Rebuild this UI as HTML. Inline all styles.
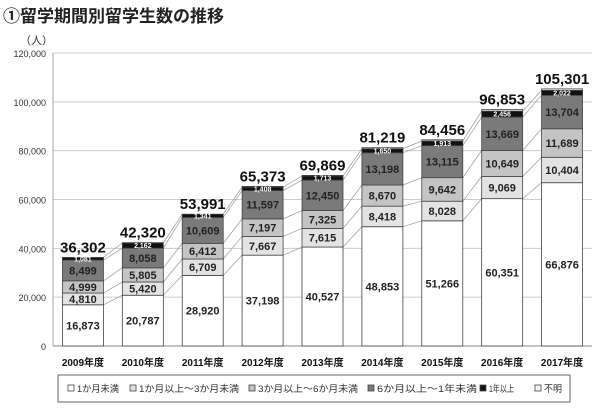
<!DOCTYPE html>
<html><head><meta charset="utf-8"><style>
body{margin:0;background:#fff;width:600px;height:406px;overflow:hidden;font-family:"Liberation Sans","Noto Sans CJK JP",sans-serif}
</style></head><body>
<svg id="c" width="600" height="406" xmlns="http://www.w3.org/2000/svg">
<text x="3" y="22" font-size="17" font-weight="bold" fill="#222" font-family="Liberation Sans,Noto Sans CJK JP,sans-serif">①留学期間別留学生数の推移</text>
<text x="20" y="44" font-size="11" fill="#333" font-family="Liberation Sans,Noto Sans CJK JP,sans-serif">（人）</text>
<g id="grid"></g><g id="links"></g><g id="bars"></g><g id="labels"></g>
<rect x="58" y="375" width="512" height="27" fill="#fff" stroke="#666"/>
<g id="legend"></g>
</svg>
<script>
const categories=["2009年度","2010年度","2011年度","2012年度","2013年度","2014年度","2015年度","2016年度","2017年度"];
const lt1m=[16873,20787,28920,37198,40527,48853,51266,60351,66876];
const m1to3=[4810,5420,6709,7667,7615,8418,8028,9069,10404];
const m3to6=[4999,5805,6412,7197,7325,8670,9642,10649,11689];
const m6to12=[8499,8058,10609,11597,12450,13198,13115,13669,13704];
const y1plus=[1081,2162,1341,1408,1713,1650,1913,2456,2022];
const unknown=[40,88,0,306,239,430,492,659,606];
const totals=[36302,42320,53991,65373,69869,81219,84456,96853,105301];
const yTicks=[0,20000,40000,60000,80000,100000,120000];
const seriesNames=["1か月未満","1か月以上～3か月未満","3か月以上～6か月未満","6か月以上～1年未満","1年以上","不明"];
const NS="http://www.w3.org/2000/svg";
const x0=53,x1=592,y0=346,yTop=53,yMax=120000;
const band=(x1-x0)/categories.length,bw=41;
function Y(v){return y0-(v/yMax)*(y0-yTop);}
function X(i){return x0+band*i+band/2;}
function mk(t,a,p){const e=document.createElementNS(NS,t);for(const k in a)e.setAttribute(k,a[k]);p.appendChild(e);return e;}
const F="Liberation Sans,Noto Sans CJK JP,sans-serif";
const grid=document.getElementById('grid');
yTicks.forEach(v=>{
 const l=mk('line',{x1:x0,x2:x1,y1:Y(v),y2:Y(v),stroke:v===0?'#888':'#ccc','stroke-width':1},grid);
 
 
 const t=mk('text',{x:x0-7,y:Y(v)+4,'text-anchor':'end','font-size':9,fill:'#333','font-family':F},grid);
 t.textContent=v.toLocaleString('en-US');
 
 
});
mk('line',{x1:x0,x2:x0,y1:yTop,y2:y0,stroke:'#aaa'},grid);
const series=[lt1m,m1to3,m3to6,m6to12,y1plus,unknown];
const fills=['#fff','#e3e3e3','#c4c4c4','#7a7a7a','#111','#f2f2f2'];
const txt=['#222','#222','#222','#222','#fff','#222'];
const bars=document.getElementById('bars'),labels=document.getElementById('labels'),links=document.getElementById('links');
const tops=[];
categories.forEach((c,i)=>{
 let acc=0;const cx=X(i);const bnd=[];
 series.forEach((s,k)=>{
  const v=s[i];const ya=Y(acc),yb=Y(acc+v);
  const r=mk('rect',{x:cx-bw/2,y:yb,width:bw,height:Math.max(0,ya-yb),fill:fills[k],stroke:'#444','stroke-width':0.8},bars);
  
  
  if(k<5&&v>0){
   const fs=k===4?7:11;
   const t=mk('text',{x:cx,y:(ya+yb)/2+fs*0.36,'text-anchor':'middle','font-size':fs,'font-weight':'bold',fill:txt[k],'font-family':F},labels);
   t.textContent=v.toLocaleString('en-US');
   
   
  }
  acc+=v;bnd.push(yb);
 });
 tops.push(bnd);
 const t=mk('text',{x:cx,y:Y(totals[i])-5,'text-anchor':'middle','font-size':15,'font-weight':'bold',fill:'#111','font-family':F},labels);
 t.textContent=totals[i].toLocaleString('en-US');
 
 
 const xl=mk('text',{x:cx,y:366,'text-anchor':'middle','font-size':10,'font-weight':'bold',fill:'#111','font-family':F},labels);
 xl.textContent=c;
 
 
});
for(let i=0;i<categories.length-1;i++){
 for(let k=0;k<5;k++){
  const l=mk('line',{x1:X(i)+bw/2,y1:tops[i][k],x2:X(i+1)-bw/2,y2:tops[i+1][k],stroke:'#999','stroke-width':0.7},links);
  
  
 }
}
const lg=document.getElementById('legend');
const lx=[68,130,249,368,480,535];
const lw=[42,100,100,100,25,18];
seriesNames.forEach((n,k)=>{
 const r=mk('rect',{x:lx[k],y:385,width:6,height:6,fill:fills[k],stroke:'#444','stroke-width':0.8},lg);
 
 
 const t=mk('text',{x:lx[k]+9,y:392,'font-size':9.5,fill:'#333','font-family':F,textLength:lw[k],lengthAdjust:'spacingAndGlyphs'},lg);
 t.textContent=n;
 
 
});
</script>
</body></html>
